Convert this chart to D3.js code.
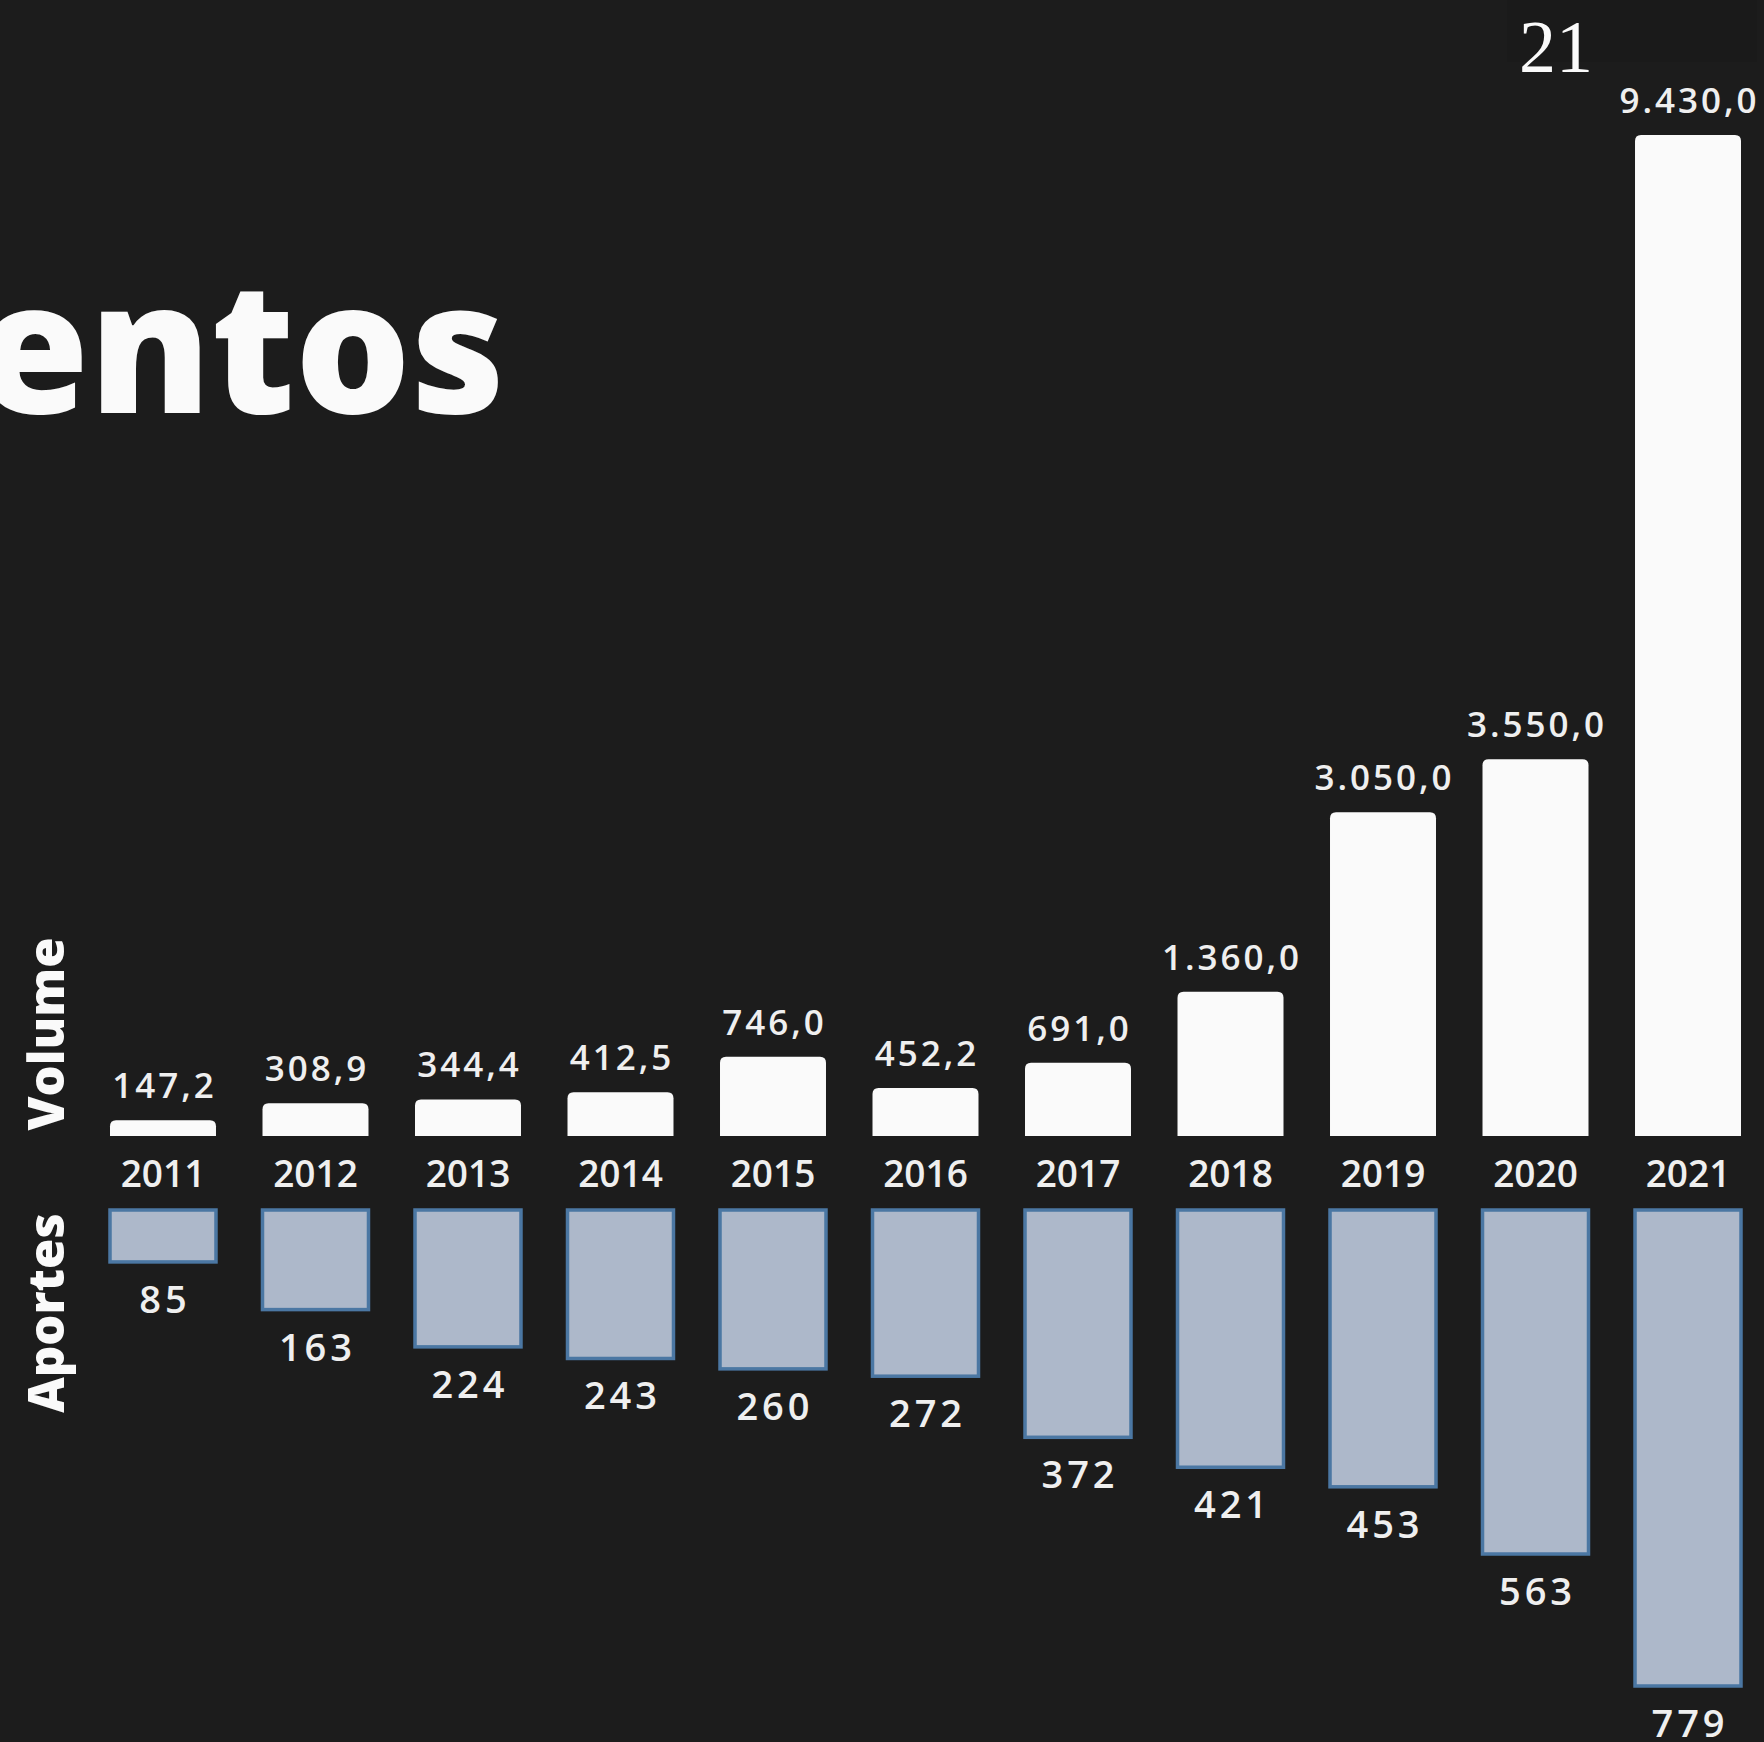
<!DOCTYPE html>
<html lang="pt">
<head>
	<meta charset="UTF-8"/>
	<title>Volume e Aportes</title>
	<style type="text/css">
		body {
		  margin: 0;
		  background-color: #1c1c1c;
		}
		svg {
		  display: block;
		}
		text {
		  font-family: "Open Sans", sans-serif;
		  fill: #efefef;
		}
		.bar {
		  fill: #fafafa;
		}
		.aporte {
		  fill: #adb8ca;
		  stroke: #4b77a3;
		  stroke-width: 3.5;
		}
		text.value, text.year, text.aporte-value {
		  font-weight: 600;
		}
		text.value {
		  font-size: 35px;
		  letter-spacing: 3px;
		}
		text.year {
		  font-size: 37px;
		}
		text.aporte-value {
		  font-size: 38px;
		  letter-spacing: 4px;
		}
		text.serie {
		  font-size: 49px;
		  font-weight: 800;
		  fill: #fafafa;
		}
		text.title {
		  font-size: 182px;
		  font-weight: 800;
		  fill: #fafafa;
		}
		text.page {
		  font-family: "Liberation Serif", "DejaVu Serif", serif;
		  font-size: 74px;
		  fill: #fafafa;
		}
	</style>
</head>
<body>
	<svg width="1764" height="1742"></svg>
<script src="https://cdn.jsdelivr.net/npm/d3@7"></script>
<script type='text/javascript'>
    // dados do slide
    const years = ['2011', '2012', '2013', '2014', '2015', '2016', '2017', '2018', '2019', '2020', '2021'];
    const volume = [147.2, 308.9, 344.4, 412.5, 746.0, 452.2, 691.0, 1360.0, 3050.0, 3550.0, 9430.0];
    const aportes = [85, 163, 224, 243, 260, 272, 372, 421, 453, 563, 779];

    const fmtVolume = (v) => {
      const [int, dec] = v.toFixed(1).split('.');
      return int.replace(/\B(?=(\d{3})+(?!\d))/g, '.') + ',' + dec;
    };

    const svg = d3.select('svg');

    svg.append('rect')
      .attr('width', 1764)
      .attr('height', 1742)
      .attr('fill', '#1c1c1c');

    // caixa do número da página
    svg.append('rect')
      .attr('x', 1507)
      .attr('y', 0)
      .attr('width', 250)
      .attr('height', 62)
      .attr('fill', '#1a1a1a');
    svg.append('text')
      .attr('class', 'page')
      .attr('x', 1556)
      .attr('y', 72)
      .attr('text-anchor', 'middle')
      .text('21');

    // título cortado à esquerda (como no slide)
    svg.append('text')
      .attr('class', 'title')
      .attr('x', 505)
      .attr('y', 413)
      .attr('text-anchor', 'end')
      .text('Investimentos');

    const xScale = d3.scaleBand()
      .domain(years)
      .range([110, 1741])
      .paddingInner(0.305)
      .paddingOuter(0);
    const bw = xScale.bandwidth();

    const yVolume = d3.scaleLinear()
      .domain([0, 9430])
      .range([1136, 135]);
    const yAportes = d3.scaleLinear()
      .domain([0, 779])
      .range([1210, 1686]);

    const rows = years.map((y, i) => ({ year: y, volume: volume[i], aporte: aportes[i] }));

    // barra com cantos de cima arredondados
    const topRounded = (x, y0, y1, w, r) => {
      const h = y0 - y1;
      r = Math.min(r, h, w / 2);
      return `M${x},${y0}V${y1 + r}Q${x},${y1} ${x + r},${y1}H${x + w - r}Q${x + w},${y1} ${x + w},${y1 + r}V${y0}Z`;
    };

    const groups = svg.selectAll('g.col')
      .data(rows)
      .enter()
      .append('g')
      .attr('class', 'col');

    groups.append('path')
      .attr('class', 'bar')
      .attr('d', (d) => topRounded(xScale(d.year), yVolume(0), yVolume(d.volume), bw, 6));

    groups.append('text')
      .attr('class', 'value')
      .attr('x', (d) => xScale(d.year) + bw / 2 + 1.5)
      .attr('y', (d) => yVolume(d.volume) - 22)
      .attr('text-anchor', 'middle')
      .text((d) => fmtVolume(d.volume));

    groups.append('text')
      .attr('class', 'year')
      .attr('x', (d) => xScale(d.year) + bw / 2)
      .attr('y', 1187)
      .attr('text-anchor', 'middle')
      .text((d) => d.year);

    groups.append('rect')
      .attr('class', 'aporte')
      .attr('x', (d) => xScale(d.year))
      .attr('y', yAportes(0))
      .attr('width', bw)
      .attr('height', (d) => yAportes(d.aporte) - yAportes(0));

    groups.append('text')
      .attr('class', 'aporte-value')
      .attr('x', (d) => xScale(d.year) + bw / 2 + 2)
      .attr('y', (d) => yAportes(d.aporte) + 51)
      .attr('text-anchor', 'middle')
      .text((d) => d.aporte);

    // rótulos das séries
    svg.append('text')
      .attr('class', 'serie')
      .attr('transform', 'translate(64, 1034) rotate(-90)')
      .attr('text-anchor', 'middle')
      .text('Volume');
    svg.append('text')
      .attr('class', 'serie')
      .attr('transform', 'translate(64, 1313) rotate(-90)')
      .attr('text-anchor', 'middle')
      .text('Aportes');
</script>
</body>
</html>
